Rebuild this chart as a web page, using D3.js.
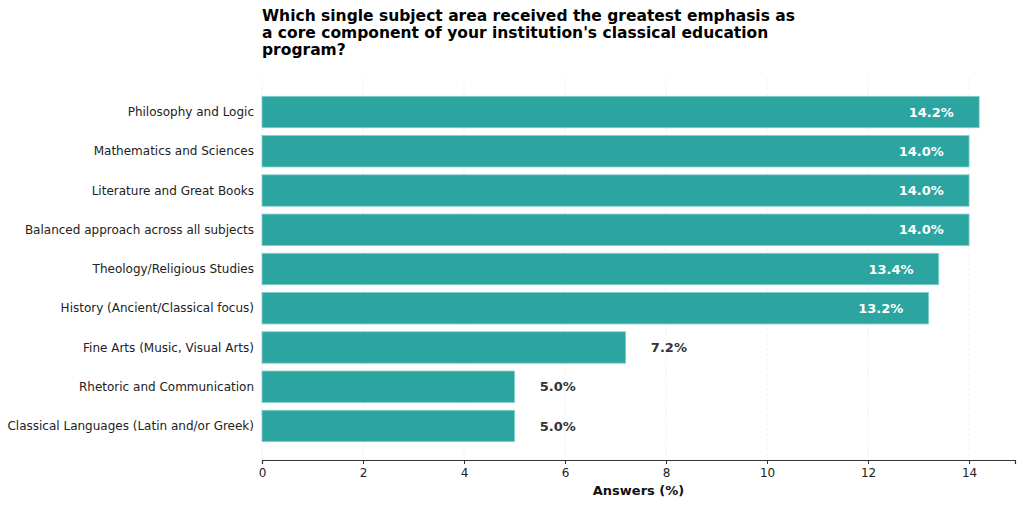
<!DOCTYPE html>
<html>
<head>
<meta charset="utf-8">
<script src="https://cdn.jsdelivr.net/npm/d3@7"></script>
<style>
  body { margin: 0; background: #fff; }
  svg { font-family: "DejaVu Sans", sans-serif; }
</style>
</head>
<body>
<svg id="chart"></svg>
<script>
// chart data
const subjects = [
    "Philosophy and Logic",
    "Mathematics and Sciences",
    "Literature and Great Books",
    "Balanced approach across all subjects",
    "Theology/Religious Studies",
    "History (Ancient/Classical focus)",
    "Fine Arts (Music, Visual Arts)",
    "Rhetoric and Communication",
    "Classical Languages (Latin and/or Greek)"
];
const answers = [14.2, 14.0, 14.0, 14.0, 13.4, 13.2, 7.2, 5.0, 5.0];
const xTicks = [0, 2, 4, 6, 8, 10, 12, 14];
const titleLines = [
    "Which single subject area received the greatest emphasis as",
    "a core component of your institution's classical education",
    "program?"
];

const width = 1024;
const height = 506;
const margin = {top: 78, right: 9, bottom: 46, left: 262};

const BAR_COLOR = "#2ca5a0";

const svg = d3.select("#chart")
    .attr("width", width)
    .attr("height", height);

const x = d3.scaleLinear()
    .domain([0, d3.max(answers) * 1.05])
    .range([margin.left, width - margin.right]);

const y = d3.scaleBand()
    .domain(subjects)
    .range([margin.top, height - margin.bottom])
    .paddingInner(0.2)
    .paddingOuter(0.467);

// grid lines
svg.append("g")
    .selectAll("line")
    .data(xTicks)
    .enter()
    .append("line")
    .attr("x1", d => x(d))
    .attr("x2", d => x(d))
    .attr("y1", margin.top)
    .attr("y2", height - margin.bottom)
    .attr("stroke", "#eeeeee")
    .attr("stroke-width", 0.8)
    .attr("stroke-dasharray", "3,2");

// bars
svg.append("g")
    .selectAll("rect")
    .data(answers)
    .enter()
    .append("rect")
    .attr("x", x(0))
    .attr("y", (d, i) => y(subjects[i]))
    .attr("width", d => x(d) - x(0))
    .attr("height", y.bandwidth())
    .attr("fill", BAR_COLOR)
    .attr("stroke", "#7fcfcb")
    .attr("stroke-width", 0.8);

// value labels: inside for long bars, outside for short ones
svg.append("g")
    .selectAll("text")
    .data(answers)
    .enter()
    .append("text")
    .attr("x", d => d > 10 ? x(d - 0.5) : x(d + 0.5))
    .attr("y", (d, i) => y(subjects[i]) + y.bandwidth() / 2)
    .attr("dy", "0.35em")
    .attr("text-anchor", d => d > 10 ? "end" : "start")
    .attr("fill", d => d > 10 ? "#ffffff" : "#333333")
    .attr("font-size", 13)
    .attr("font-weight", "bold")
    .text(d => d.toFixed(1) + "%");

// y labels
svg.append("g")
    .selectAll("text")
    .data(subjects)
    .enter()
    .append("text")
    .attr("x", margin.left - 8)
    .attr("y", d => y(d) + y.bandwidth() / 2)
    .attr("dy", "0.35em")
    .attr("text-anchor", "end")
    .attr("fill", "#222")
    .attr("font-size", 12)
    .text(d => d);

// x axis
const xAxis = svg.append("g")
    .attr("transform", `translate(0,${height - margin.bottom})`)
    .call(d3.axisBottom(x).tickValues(xTicks).tickSize(4).tickPadding(4).tickFormat(d3.format("d")));
xAxis.select(".domain").attr("stroke", "#333").attr("stroke-width", 1.2);
xAxis.selectAll(".tick line").attr("stroke", "#333");
xAxis.selectAll("text")
    .attr("font-family", "DejaVu Sans")
    .attr("font-size", 12)
    .attr("fill", "#222");

svg.append("text")
    .attr("x", (x(0) + x.range()[1]) / 2)
    .attr("y", 495)
    .attr("text-anchor", "middle")
    .attr("font-size", 13)
    .attr("font-weight", "bold")
    .attr("fill", "#111")
    .text("Answers (%)");

// title
svg.append("g")
    .selectAll("text")
    .data(titleLines)
    .enter()
    .append("text")
    .attr("x", margin.left)
    .attr("y", (d, i) => 21 + i * 17)
    .attr("font-size", 15.5)
    .attr("font-weight", "bold")
    .attr("fill", "#000")
    .text(d => d);
</script>
</body>
</html>
